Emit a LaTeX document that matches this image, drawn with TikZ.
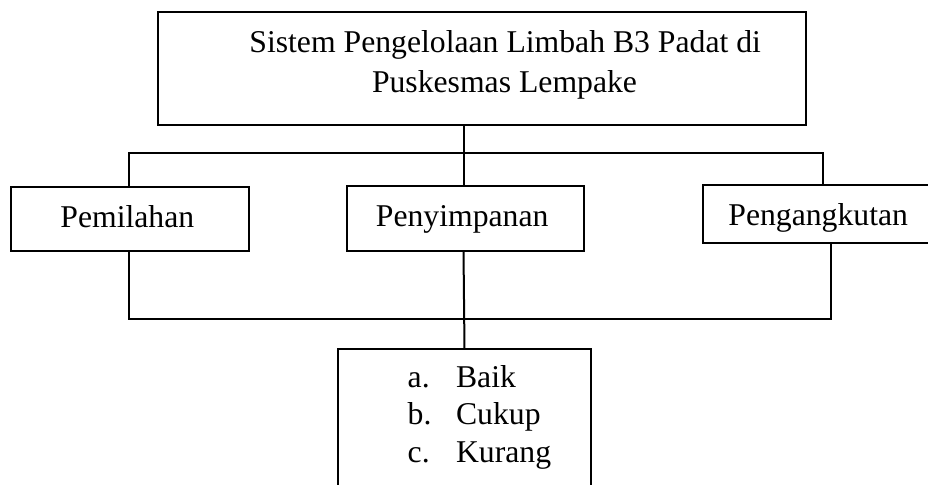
\documentclass[tikz,border=0pt]{standalone}
\usepackage{fontspec}
\setmainfont{Liberation Serif}
\begin{document}
\begin{tikzpicture}[x=0.5pt,y=-0.5pt,
  box/.style={draw=black,line width=1pt,anchor=north west,inner sep=0pt,outer sep=0pt},
  txt/.style={anchor=base west,inner sep=0pt,font=\fontsize{15.85}{18.75}\selectfont},
  conn/.style={draw=black,line width=1pt}]
\useasboundingbox (0,0) rectangle (928,484);
\clip (0,0) rectangle (928,484);
% boxes
\node[box,minimum width=323.85pt,minimum height=56.35pt] (top) at (158.3,12.3) {};
\node[box,minimum width=118.85pt,minimum height=31.6pt] (pem) at (11,187.3) {};
\node[box,minimum width=118.65pt,minimum height=32.4pt] (pen) at (346.7,185.7) {};
\node[box,minimum width=116.15pt,minimum height=28.7pt] (ang) at (702.7,185.3) {};
\node[box,minimum width=126.2pt,minimum height=70.65pt] (res) at (338.3,348.7) {};
% texts
\node[txt] (t1) at (249,52.3) {Sistem Pengelolaan Limbah B3 Padat di};
\node[txt] (t2) at (371.6,92.7) {Puskesmas Lempake};
\node[txt] (tpem) at (60,227.3) {Pemilahan};
\node[txt] (tpen) at (375.5,226.7) {Penyimpanan};
\node[txt] (tang) at (728,225.7) {Pengangkutan};
\node[txt] (tres) at (407.3,387.3) {\begin{tabular}[t]{@{}p{24.2pt}@{}l@{}}a.&Baik\\ b.&Cukup\\ c.&Kurang\end{tabular}};
% coordinates
\coordinate (topS) at (464,125);
\coordinate (penN) at (464,185.7);
\coordinate (hL) at (129.3,153.3);
\coordinate (hR) at (822.7,153.3);
\coordinate (pemN) at (129.3,187.3);
\coordinate (angN) at (822.7,185.3);
\coordinate (pemS) at (129.3,250.5);
\coordinate (angS) at (830.7,242.7);
\coordinate (penS) at (463.5,250.5);
\coordinate (resN) at (464.5,348.7);
% upper connectors
\draw[conn] (topS) -- (penN);
\draw[conn] (pemN) -- (hL) -- (hR) -- (angN);
% lower connectors
\draw[conn] (pemS) -- (129.3,319) -- (830.7,319) -- (angS);
\draw[conn] (penS) -- (resN);
\end{tikzpicture}
\end{document}
